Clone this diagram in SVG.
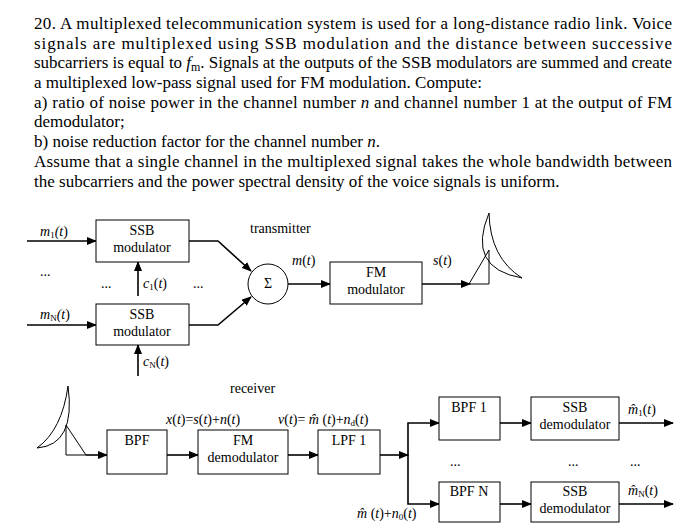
<svg xmlns="http://www.w3.org/2000/svg" width="700" height="529" viewBox="0 0 700 529">
<defs>
<marker id="a" markerWidth="10" markerHeight="8" refX="9" refY="4" orient="auto" markerUnits="userSpaceOnUse"><path d="M0,0 L10,4 L0,8 z" fill="#000"/></marker>
<style>
.p{font-family:"Liberation Serif",serif;font-size:17px;fill:#000}
.t{font-family:"Liberation Serif",serif;font-size:14px;fill:#000}
.i{font-style:italic}
rect{fill:#fff;stroke:#000;stroke-width:1}
.c path,.c line,.c polyline{fill:none;stroke:#000;stroke-width:1.6}
.ar{marker-end:url(#a)}
</style>
</defs>
<rect x="0" y="0" width="700" height="529" style="stroke:none"/>
<g id="question">
<text class="p" x="34" y="29" textLength="638" lengthAdjust="spacing">20. A multiplexed telecommunication system is used for a long-distance radio link. Voice</text>
<text class="p" x="34" y="49" textLength="638" lengthAdjust="spacing">signals are multiplexed using SSB modulation and the distance between successive</text>
<text class="p" x="34" y="68" textLength="638" lengthAdjust="spacing">subcarriers is equal to <tspan class="i">f</tspan><tspan font-size="12" dy="3">m</tspan><tspan dy="-3">. Signals at the outputs of the SSB modulators are summed and create</tspan></text>
<text class="p" x="34" y="88">a multiplexed low-pass signal used for FM modulation. Compute:</text>
<text class="p" x="34" y="108" textLength="638" lengthAdjust="spacing">a) ratio of noise power in the channel number <tspan class="i">n</tspan> and channel number 1 at the output of FM</text>
<text class="p" x="34" y="127">demodulator;</text>
<text class="p" x="34" y="147">b) noise reduction factor for the channel number <tspan class="i">n</tspan>.</text>
<text class="p" x="34" y="167" textLength="638" lengthAdjust="spacing">Assume that a single channel in the multiplexed signal takes the whole bandwidth between</text>
<text class="p" x="34" y="187">the subcarriers and the power spectral density of the voice signals is uniform.</text>
</g>
<g class="c" id="connectors">
<line class="ar" x1="27" y1="241" x2="96" y2="241"/>
<line class="ar" x1="27" y1="325" x2="96" y2="325"/>
<polyline class="ar" points="189,241 218,241 251,271"/>
<polyline class="ar" points="189,325 218,325 251,297"/>
<line class="ar" x1="138" y1="296" x2="138" y2="262"/>
<line class="ar" x1="138" y1="376" x2="138" y2="345"/>
<line class="ar" x1="288" y1="284" x2="330" y2="284"/>
<line class="ar" x1="422" y1="284" x2="470" y2="284"/>
<polyline style="stroke-width:1" points="469,284 489,250 489,284 469,284"/>
<path style="stroke-width:1" d="M489,213 Q466,268 522,278 Q490,258 489,213 z"/>
<path style="stroke-width:1" d="M68,386 Q76,445 37,448 Q62,430 68,386 z"/>
<polyline style="stroke-width:1" points="66,425 66,455 86,455 66,425"/>
<line class="ar" x1="86" y1="455" x2="107" y2="455"/>
<line class="ar" x1="167" y1="455" x2="198" y2="455"/>
<line class="ar" x1="288" y1="455" x2="318" y2="455"/>
<line class="ar" x1="380" y1="455" x2="408" y2="455"/>
<polyline class="ar" points="402,455 408,455 408,423 439,423"/>
<polyline class="ar" points="408,455 408,504 439,504"/>
<line class="ar" x1="500" y1="423" x2="531" y2="423"/>
<line class="ar" x1="500" y1="504" x2="531" y2="504"/>
<line class="ar" x1="619" y1="423" x2="673" y2="423"/>
<line class="ar" x1="619" y1="504" x2="673" y2="504"/>
</g>
<g id="ssb1"><rect x="96" y="220" width="93" height="42"/><text class="t" x="142" y="235" text-anchor="middle">SSB</text><text class="t" x="142" y="252" text-anchor="middle">modulator</text></g>
<g id="ssbN"><rect x="96" y="304" width="93" height="41"/><text class="t" x="142" y="319" text-anchor="middle">SSB</text><text class="t" x="142" y="336" text-anchor="middle">modulator</text></g>
<g id="sum"><circle cx="268" cy="284" r="20" fill="#fff" stroke="#000"/><text class="t" x="268" y="288" text-anchor="middle" font-size="11">Σ</text></g>
<g id="fmmod"><rect x="330" y="262" width="92" height="42"/><text class="t" x="376" y="277" text-anchor="middle">FM</text><text class="t" x="376" y="294" text-anchor="middle">modulator</text></g>
<g id="bpf"><rect x="107" y="430" width="60" height="44"/><text class="t" x="137" y="445" text-anchor="middle">BPF</text></g>
<g id="fmdemod"><rect x="198" y="430" width="90" height="44"/><text class="t" x="243" y="445" text-anchor="middle">FM</text><text class="t" x="243" y="462" text-anchor="middle">demodulator</text></g>
<g id="lpf1"><rect x="318" y="430" width="62" height="44"/><text class="t" x="349" y="445" text-anchor="middle">LPF 1</text></g>
<g id="bpf1"><rect x="439" y="397" width="61" height="43"/><text class="t" x="469" y="412" text-anchor="middle">BPF 1</text></g>
<g id="ssbd1"><rect x="531" y="397" width="88" height="43"/><text class="t" x="575" y="412" text-anchor="middle">SSB</text><text class="t" x="575" y="429" text-anchor="middle">demodulator</text></g>
<g id="bpfN"><rect x="439" y="482" width="61" height="40"/><text class="t" x="469" y="496" text-anchor="middle">BPF N</text></g>
<g id="ssbdN"><rect x="531" y="482" width="88" height="40"/><text class="t" x="575" y="496" text-anchor="middle">SSB</text><text class="t" x="575" y="513" text-anchor="middle">demodulator</text></g>
<g id="labels" class="t">
<text class="t i" x="40" y="236">m<tspan font-size="9" dy="2" font-style="normal">1</tspan><tspan dy="-2">(</tspan>t<tspan font-style="normal">)</tspan></text>
<text class="t i" x="40" y="319">m<tspan font-size="9" dy="2" font-style="normal">N</tspan><tspan dy="-2">(</tspan>t<tspan font-style="normal">)</tspan></text>
<text class="t" x="40" y="276">...</text>
<text class="t" x="101" y="288">...</text>
<text class="t" x="193" y="288">...</text>
<text class="t i" x="143" y="288">c<tspan font-size="9" dy="2" font-style="normal">1</tspan><tspan dy="-2" font-style="normal">(</tspan>t<tspan font-style="normal">)</tspan></text>
<text class="t i" x="143" y="366">c<tspan font-size="9" dy="2" font-style="normal">N</tspan><tspan dy="-2" font-style="normal">(</tspan>t<tspan font-style="normal">)</tspan></text>
<text class="t" x="250" y="233">transmitter</text>
<text class="t i" x="292" y="265">m<tspan font-style="normal">(</tspan>t<tspan font-style="normal">)</tspan></text>
<text class="t i" x="433" y="265">s<tspan font-style="normal">(</tspan>t<tspan font-style="normal">)</tspan></text>
<text class="t" x="230" y="393">receiver</text>
<text class="t i" x="166" y="424">x<tspan font-style="normal">(</tspan>t<tspan font-style="normal">)=</tspan>s<tspan font-style="normal">(</tspan>t<tspan font-style="normal">)+</tspan>n<tspan font-style="normal">(</tspan>t<tspan font-style="normal">)</tspan></text>
<text class="t i" x="278" y="424">v<tspan font-style="normal">(</tspan>t<tspan font-style="normal">)= </tspan>m̂<tspan font-style="normal"> (</tspan>t<tspan font-style="normal">)+</tspan>n<tspan font-size="9" dy="2" font-style="normal">d</tspan><tspan dy="-2" font-style="normal">(</tspan>t<tspan font-style="normal">)</tspan></text>
<text class="t i" x="357" y="518">m̂<tspan font-style="normal"> (</tspan>t<tspan font-style="normal">)+</tspan>n<tspan font-size="9" dy="2" font-style="normal">0</tspan><tspan dy="-2" font-style="normal">(</tspan>t<tspan font-style="normal">)</tspan></text>
<text class="t i" x="628" y="414">m̂<tspan font-size="9" dy="2" font-style="normal">1</tspan><tspan dy="-2" font-style="normal">(</tspan>t<tspan font-style="normal">)</tspan></text>
<text class="t i" x="628" y="495">m̂<tspan font-size="9" dy="2" font-style="normal">N</tspan><tspan dy="-2" font-style="normal">(</tspan>t<tspan font-style="normal">)</tspan></text>
<text class="t" x="450" y="466">...</text>
<text class="t" x="568" y="466">...</text>
<text class="t" x="630" y="466">...</text>
</g>
</svg>
